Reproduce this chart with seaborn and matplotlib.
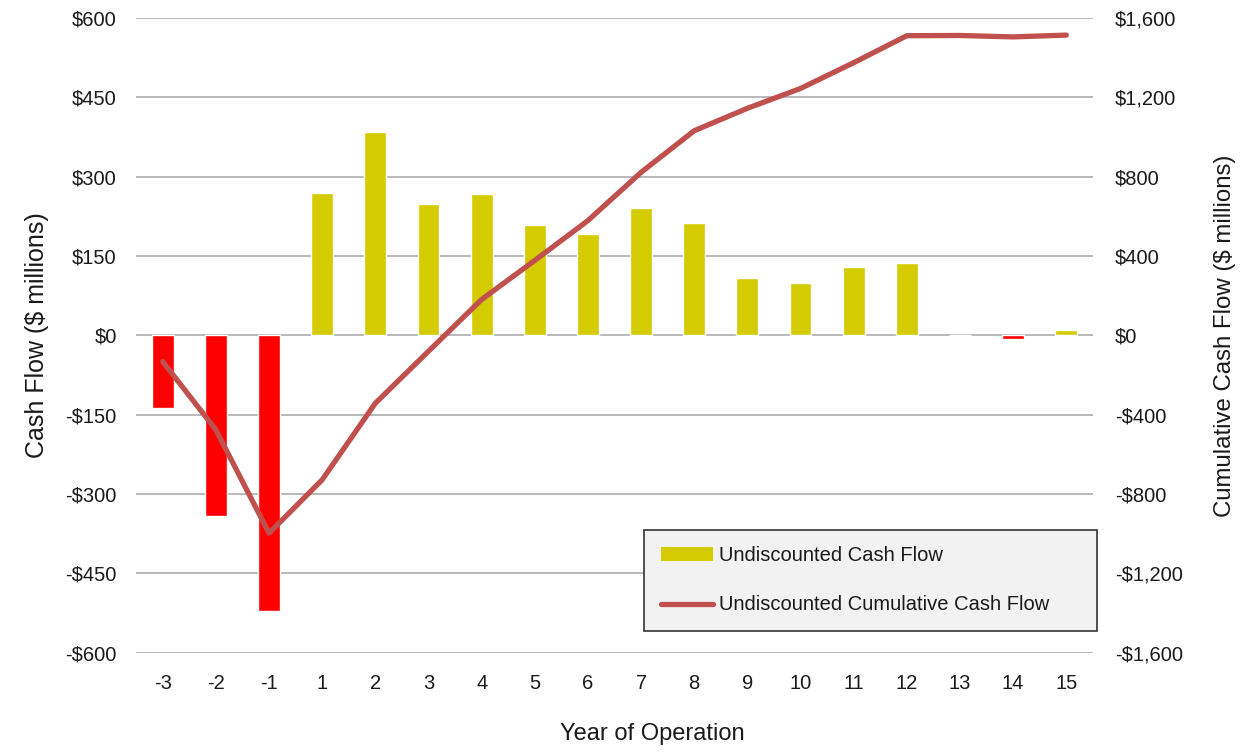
import matplotlib
matplotlib.use("Agg")
import matplotlib.pyplot as plt
from matplotlib.patches import Patch
from matplotlib.lines import Line2D
from matplotlib.ticker import FuncFormatter
import seaborn as sns
import pandas as pd
import numpy as np

years = ["-3", "-2", "-1", "1", "2", "3", "4", "5", "6", "7", "8", "9",
         "10", "11", "12", "13", "14", "15"]
cash_flow = [-137, -342, -521, 269, 384, 249, 267, 209, 191, 240, 212, 109,
             99, 129, 137, 1, -7, 11]
cumulative = [-132, -476, -997, -728, -342, -80, 181, 378, 579, 822, 1032,
              1145, 1245, 1375, 1511, 1512, 1505, 1514]

left_ticks = [-600, -450, -300, -150, 0, 150, 300, 450, 600]
right_ticks = [-1600, -1200, -800, -400, 0, 400, 800, 1200, 1600]

YELLOW = "#D4CB00"
RED = "#FF0000"
LINE = "#C0504D"
TEXT = "#1a1a1a"

sns.set_style("white")
plt.rcParams["font.family"] = ["Liberation Sans", "DejaVu Sans"]

df = pd.DataFrame({"year": years, "cash": cash_flow, "cum": cumulative})
df["sign"] = np.where(df["cash"] < 0, "neg", "pos")
df["pos"] = np.arange(len(df))

fig = plt.figure(figsize=(12.49, 7.52), dpi=100)
ax = fig.add_axes([0.109, 0.132, 0.766, 0.844])

sns.barplot(data=df, x="year", y="cash", hue="sign", order=years,
            palette={"neg": RED, "pos": YELLOW}, dodge=False, width=0.41,
            legend=False, saturation=1, ax=ax, zorder=2)

ax.set_ylim(-600, 600)
ax.set_xlim(-0.5, len(years) - 0.5)
ax.set_yticks(left_ticks)
money = lambda v, p: f"-${abs(v):,.0f}" if v < 0 else f"${v:,.0f}"
ax.yaxis.set_major_formatter(FuncFormatter(money))
ax.grid(axis="y", color="#a6a6a6", linewidth=1.1, zorder=0)
ax.set_axisbelow(True)
for s in ax.spines.values():
    s.set_visible(False)
ax.tick_params(axis="both", length=0, labelsize=14.5, colors=TEXT)
ax.tick_params(axis="y", pad=14)
ax.tick_params(axis="x", pad=15)
ax.set_xlabel("Year of Operation", fontsize=17, color=TEXT)
ax.xaxis.set_label_coords(0.54, -0.11)
ax.set_ylabel("Cash Flow ($ millions)", fontsize=18, color=TEXT, labelpad=12)

# cumulative line on the secondary axis
ax2 = ax.twinx()
sns.lineplot(data=df, x="pos", y="cum", color=LINE, linewidth=3.8,
             solid_capstyle="round", ax=ax2, zorder=3)
ax2.set_ylim(-1600, 1600)
ax2.set_xlim(-0.5, len(years) - 0.5)
ax2.set_yticks(right_ticks)
ax2.yaxis.set_major_formatter(FuncFormatter(money))
ax2.grid(False)
for s in ax2.spines.values():
    s.set_visible(False)
ax2.tick_params(axis="y", length=0, labelsize=14.5, colors=TEXT, pad=16)
ax2.set_ylabel("Cumulative Cash Flow ($ millions)", fontsize=17.3, color=TEXT,
               labelpad=22)

handles = [Patch(facecolor=YELLOW, edgecolor="none"),
           Line2D([0], [0], color=LINE, linewidth=3.8, solid_capstyle="round")]
leg = fig.legend(handles, ["Undiscounted Cash Flow",
                           "Undiscounted Cumulative Cash Flow"],
                 loc="upper left", bbox_to_anchor=(0.516, 0.165, 0.362, 0.130),
                 mode="expand", fontsize=14.5, frameon=True, fancybox=False,
                 handlelength=2.6, handleheight=0.65, handletextpad=0.3,
                 labelspacing=1.5, borderpad=0.8, borderaxespad=0)
leg.get_frame().set_facecolor("#f2f2f2")
leg.get_frame().set_edgecolor("#333333")
leg.get_frame().set_linewidth(1.2)
leg.get_frame().set_alpha(1)
for t in leg.get_texts():
    t.set_color(TEXT)

fig.savefig("out.png", dpi=100)
